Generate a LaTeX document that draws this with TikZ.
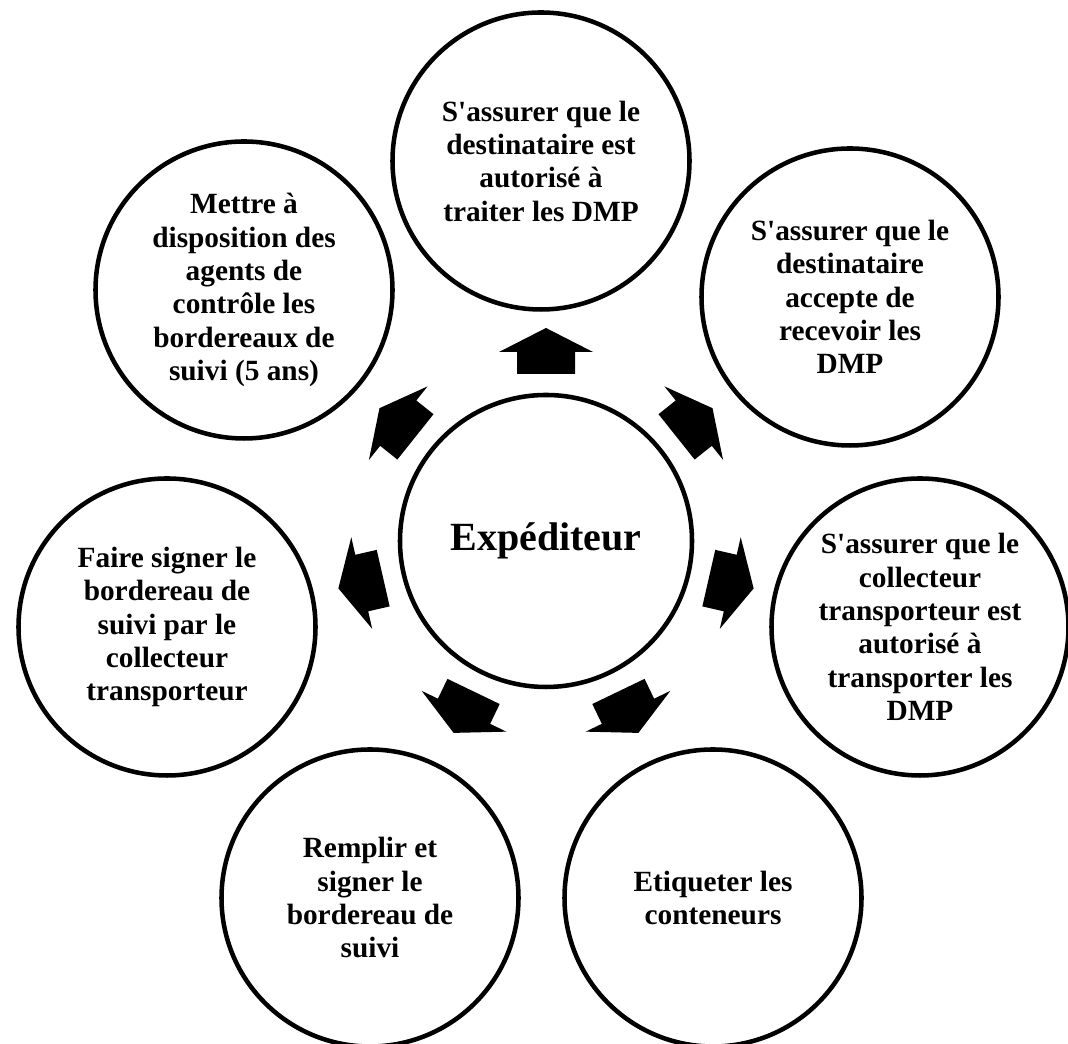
\documentclass[tikz,border=0pt]{standalone}
\usepackage{fontspec}
\setmainfont{Liberation Serif}

\tikzset{
  task/.style={circle, draw, line width=3.4pt, minimum size=222.75pt, inner sep=0pt,
    align=center, font=\fontsize{22}{25}\selectfont\bfseries},
  hub/.style={task, minimum size=219pt, font=\fontsize{30}{36}\selectfont\bfseries},
  outarrow/.pic={\fill (167,-29) -- (189,-29) -- (189,-47) -- (213,0) -- (189,47) -- (189,29) -- (167,29) -- cycle;}
}

\begin{document}
\begin{tikzpicture}[x=0.75pt, y=0.75pt]

  \useasboundingbox (0,0) rectangle (1068,1044);

  % Centre
  \node[hub] (exp) at (546,503) {Expéditeur};

  % Tasks around the centre
  \node[task] (dest)    at (541,883) {S\textquotesingle assurer que le\\destinataire est\\autorisé à\\traiter les DMP};
  \node[task] (accept)  at (850,747) {S\textquotesingle assurer que le\\destinataire\\accepte de\\recevoir les\\DMP};
  \node[task] (collect) at (920,417) {S\textquotesingle assurer que le\\collecteur\\transporteur est\\autorisé à\\transporter les\\DMP};
  \node[task] (label)   at (713,146) {Etiqueter les\\conteneurs};
  \node[task] (fill)    at (370,146) {Remplir et\\signer le\\bordereau de\\suivi};
  \node[task] (sign)    at (167,417) {Faire signer le\\bordereau de\\suivi par le\\collecteur\\transporteur};
  \node[task] (archive) at (244,754) {Mettre à\\disposition des\\agents de\\contrôle les\\bordereaux de\\suivi (5 ans)};

  % Block arrows
  \pic[rotate=90]      at (exp) {outarrow};
  \pic[rotate=38.57]   at (exp) {outarrow};
  \pic[rotate=-12.86]  at (exp) {outarrow};
  \pic[rotate=-64.29]  at (exp) {outarrow};
  \pic[rotate=-115.71] at (exp) {outarrow};
  \pic[rotate=-167.14] at (exp) {outarrow};
  \pic[rotate=141.43]  at (exp) {outarrow};

\end{tikzpicture}
\end{document}
